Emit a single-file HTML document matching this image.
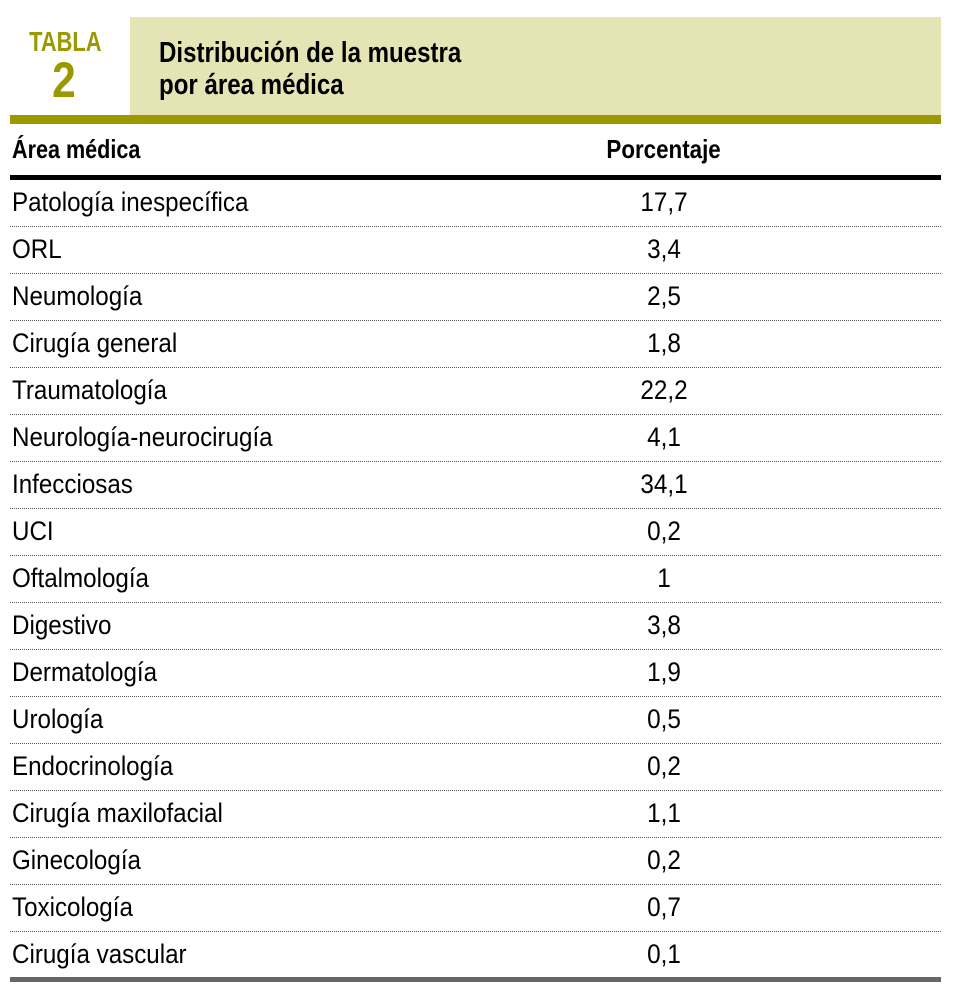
<!DOCTYPE html>
<html><head><meta charset="utf-8"><style>
body{margin:0;background:#fff;width:959px;height:994px;position:relative;overflow:hidden;font-family:"Liberation Sans Narrow","Liberation Sans",sans-serif;}
.a{position:absolute}
.tabla{left:21px;top:28px;width:74px;text-align:center;color:#9a9a00;font-weight:bold;font-size:28px;line-height:28px;transform:scaleX(0.78);transform-origin:center;}
.num{left:27px;top:54px;width:74px;text-align:center;color:#9a9a00;font-weight:bold;font-size:50px;line-height:52px;transform:scaleX(0.85);}
.box{left:130px;top:17px;width:811px;height:98px;background:#e4e4b4;}
.title{left:159px;top:37px;font-weight:bold;font-size:29px;line-height:32px;color:#000;transform:scaleX(0.83);transform-origin:left;white-space:nowrap;}
.olive{left:10px;top:115px;width:931px;height:9px;background:#9a9a00;}
.hdr{top:134px;font-weight:bold;font-size:26px;white-space:nowrap;}
.blk{left:10px;top:175px;width:931px;height:5px;background:#000;}
.row{left:10px;width:931px;height:47px;}
.row .l{position:absolute;left:2px;top:7px;font-size:27px;transform:scaleX(0.895);transform-origin:left;white-space:nowrap;}
.row .v{position:absolute;left:594px;width:120px;text-align:center;top:7px;font-size:27px;transform:scaleX(0.9);}
.row.sep{border-bottom:1px dotted #555;box-sizing:border-box;}
.gray{left:10px;top:977px;width:931px;height:5px;background:#666;}
</style></head><body>
<div class="a tabla">TABLA</div>
<div class="a num">2</div>
<div class="a box"></div>
<div class="a title">Distribución de la muestra<br>por área médica</div>
<div class="a olive"></div>
<div class="a hdr" style="left:12px;transform:scaleX(0.83);transform-origin:left">Área médica</div>
<div class="a hdr" style="left:598px;width:120px;text-align:center;transform:scaleX(0.86)">Porcentaje</div>
<div class="a blk"></div>
<div id="rows"></div>
<div class="a gray"></div>
<script>
const areas=["Patología inespecífica","ORL","Neumología","Cirugía general","Traumatología","Neurología-neurocirugía","Infecciosas","UCI","Oftalmología","Digestivo","Dermatología","Urología","Endocrinología","Cirugía maxilofacial","Ginecología","Toxicología","Cirugía vascular"];
const values=["17,7","3,4","2,5","1,8","22,2","4,1","34,1","0,2","1","3,8","1,9","0,5","0,2","1,1","0,2","0,7","0,1"];
const c=document.getElementById('rows');
areas.forEach((a,i)=>{
  const r=document.createElement('div');
  r.className='a row'+(i<areas.length-1?' sep':'');
  r.style.top=(180+i*47)+'px';
  
  
  const l=document.createElement('div');l.className='l';l.textContent=a;
  
  
  const v=document.createElement('div');v.className='v';v.textContent=values[i];
  
  
  r.appendChild(l);r.appendChild(v);c.appendChild(r);
});
</script>
</body></html>
